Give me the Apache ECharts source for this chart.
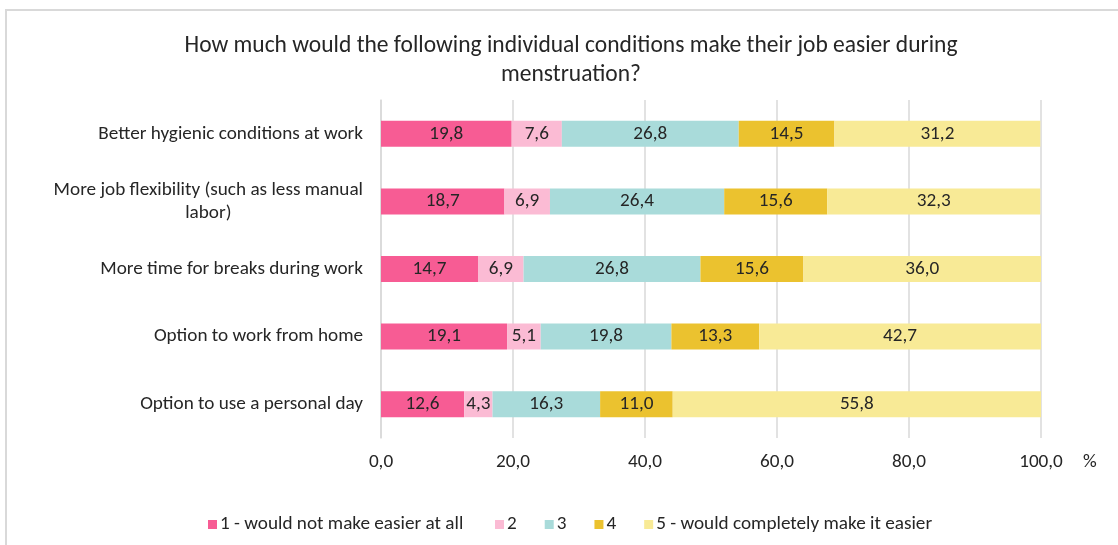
<!DOCTYPE html>
<html>
<head>
<meta charset="utf-8">
<script src="https://cdn.jsdelivr.net/npm/echarts@6/dist/echarts.min.js"></script>
<style>
  html, body { margin: 0; padding: 0; background: #ffffff; }
  #chart { width: 1118px; height: 545px; }
</style>
</head>
<body>
<div id="chart"></div>
<script>
// Survey items (top to bottom)
const categories = [
  'Better hygienic conditions at work',
  'More job flexibility (such as less manual labor)',
  'More time for breaks during work',
  'Option to work from home',
  'Option to use a personal day'
];

// Answer scale
const seriesNames = [
  '1 - would not make easier at all',
  '2',
  '3',
  '4',
  '5 - would completely make it easier'
];

// Share of respondents (%) per answer, one array per scale point
const score1 = [19.8, 18.7, 14.7, 19.1, 12.6];
const score2 = [7.6, 6.9, 6.9, 5.1, 4.3];
const score3 = [26.8, 26.4, 26.8, 19.8, 16.3];
const score4 = [14.5, 15.6, 15.6, 13.3, 11.0];
const score5 = [31.2, 32.3, 36.0, 42.7, 55.8];

const xTicks = [0, 20, 40, 60, 80, 100];

const seriesData = [score1, score2, score3, score4, score5];
const colors = ['#F75C94', '#FBBBD4', '#A9DBDA', '#EBC22F', '#F8EA96'];

const FONT = 'Carlito, Lato, "Liberation Sans", sans-serif';
const TEXT = '#262626';
const FS = 19.2;

const fmt = v => Number(v).toFixed(1).replace('.', ',');

const chart = echarts.init(document.getElementById('chart'), null, { renderer: 'canvas' });

const legendText = { fontFamily: FONT, fontSize: FS, color: TEXT, padding: [0, 0, 0, -2] };

const option = {
  backgroundColor: '#ffffff',
  animation: false,
  textStyle: { fontFamily: FONT },
  title: {
    text: 'How much would the following individual conditions make their job easier during\nmenstruation?',
    left: 566,
    textAlign: 'center',
    top: 27,
    textStyle: {
      fontFamily: FONT,
      fontSize: 23.5,
      fontWeight: 'normal',
      color: TEXT,
      lineHeight: 29
    }
  },
  graphic: [{
    type: 'rect',
    silent: true,
    shape: { x: 6, y: 10, width: 1300, height: 700 },
    style: { fill: 'none', stroke: '#d9d9d9', lineWidth: 2 }
  }],
  legend: [{
    data: [seriesNames[0]],
    left: 203,
    top: 510,
    icon: 'rect',
    itemWidth: 9,
    itemHeight: 9,
    itemGap: 28,
    textStyle: legendText
  }, {
    data: seriesNames.slice(1),
    left: 490,
    top: 510,
    icon: 'rect',
    itemWidth: 9,
    itemHeight: 9,
    itemGap: 28,
    textStyle: legendText
  }],
  grid: {
    left: 381,
    right: 77,
    top: 100,
    bottom: 107,
    containLabel: false
  },
  xAxis: {
    type: 'value',
    min: 0,
    max: 100,
    interval: 20,
    name: '%',
    nameLocation: 'end',
    nameGap: 42,
    nameTextStyle: {
      fontFamily: FONT, fontSize: FS, color: TEXT,
      verticalAlign: 'top', padding: [15, 0, 0, 0]
    },
    axisLine: { show: false },
    axisTick: { show: false },
    axisLabel: {
      fontFamily: FONT, fontSize: FS, color: TEXT, margin: 15,
      formatter: v => xTicks.includes(v) ? fmt(v) : ''
    },
    splitLine: { show: true, lineStyle: { color: '#d9d9d9', width: 1.5 } }
  },
  yAxis: {
    type: 'category',
    data: categories,
    inverse: true,
    axisLine: { show: true, lineStyle: { color: '#d9d9d9', width: 1.5 } },
    axisTick: { show: false },
    axisLabel: {
      margin: 18,
      fontFamily: FONT,
      fontSize: FS,
      color: TEXT,
      lineHeight: 23,
      formatter: v => {
        if (v.indexOf('such as') >= 0) {
          return '{c|More job flexibility (such as less manual}\n{c|labor)}';
        }
        return v;
      },
      rich: {
        c: { align: 'center', fontFamily: FONT, fontSize: FS, color: TEXT, lineHeight: 23 }
      }
    }
  },
  series: seriesNames.map((name, i) => ({
    name,
    type: 'bar',
    stack: 'total',
    barWidth: 26,
    data: seriesData[i],
    itemStyle: { color: colors[i] },
    label: {
      show: true,
      position: 'inside',
      fontFamily: FONT,
      fontSize: FS,
      color: TEXT,
      formatter: p => fmt(p.value)
    }
  }))
};

chart.setOption(option);
</script>
</body>
</html>
